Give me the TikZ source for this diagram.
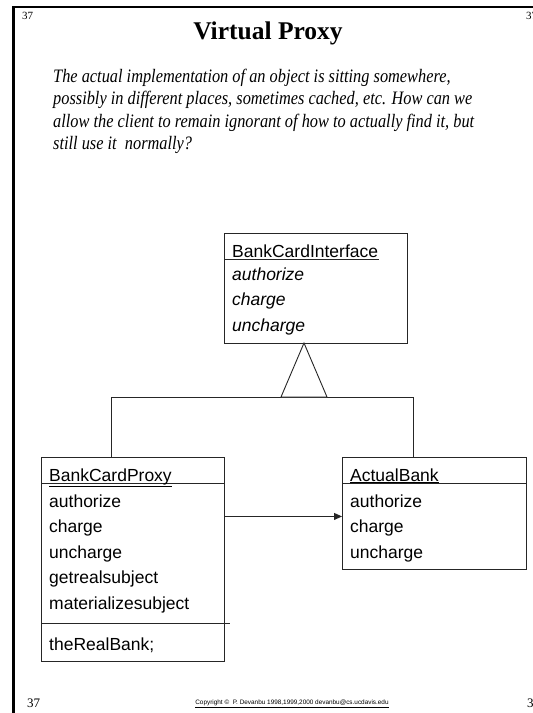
\documentclass[tikz,border=0pt]{standalone}
\usepackage{fontspec}
\setmainfont{Liberation Serif}
\newfontfamily\umlfont{Liberation Sans}
\newfontfamily\quotefont[FakeStretch=0.86]{Liberation Serif}
\usetikzlibrary{arrows.meta}
\begin{document}
\begin{tikzpicture}[x=1pt,y=-1pt,
  classbox/.style={draw=black!85, line width=0.9pt, rectangle, inner sep=0pt, anchor=north west},
  sepline/.style={draw=black!85, line width=0.9pt},
  member/.style={anchor=base west, inner sep=0pt, font=\umlfont\fontsize{17.5}{20}\selectfont},
  abstractmember/.style={member, font=\umlfont\itshape\fontsize{17.5}{20}\selectfont},
  quoteline/.style={anchor=base west, inner sep=0pt, font=\quotefont\itshape\fontsize{19}{22}\selectfont},
  pagenum/.style={inner sep=0pt, font=\fontsize{11}{12}\selectfont},
  link/.style={draw=black!85, line width=0.9pt}
]
\useasboundingbox (0,0) rectangle (533,713);

% slide frame: heavy left rule and top rule
\draw[line width=3pt] (13.5,713) -- (13.5,6);
\draw[line width=2pt] (12,7) -- (533,7);

% slide numbers
\node[pagenum, anchor=north west] (n1) at (22,12) {37};
\node[pagenum, anchor=north west] (n2) at (526,12) {37};
\node[pagenum, anchor=base west, font=\fontsize{13}{14}\selectfont] (n3) at (27,707) {37};
\node[pagenum, anchor=base west, font=\fontsize{13}{14}\selectfont] (n4) at (527,707) {37};

% title
\node[anchor=base, inner sep=0pt, font=\bfseries\fontsize{25.5}{28}\selectfont] (title) at (268,39) {Virtual Proxy};

% motivating question
\node[quoteline] (q1) at (53,82) {The actual implementation of an object is sitting somewhere,};
\node[quoteline] (q2) at (53,104.5) {possibly in different places, sometimes cached, etc. How can we};
\node[quoteline] (q3) at (53,127) {allow the client to remain ignorant of how to actually find it, but};
\node[quoteline] (q4) at (53,149.5) {still use it\ \ normally?};

% interface class
\node[classbox, minimum width=183pt, minimum height=110pt] (iface) at (224,233) {};
\draw[sepline] (iface.north west |- 0,259) -- (379,259);
\node[member] (ifname) at (232,257) {BankCardInterface};
\node[abstractmember] (if1) at (232,280) {authorize};
\node[abstractmember] (if2) at (232,305.5) {charge};
\node[abstractmember] (if3) at (232,331) {uncharge};

% proxy class
\node[classbox, minimum width=183pt, minimum height=204pt] (proxy) at (41,457) {};
\draw[sepline] (proxy.north west |- 0,483) -- (proxy.north east |- 0,483);
\draw[sepline] (proxy.north west |- 0,623) -- (230,623);
\node[member] (pname) at (49,481) {\underline{BankCardProxy}};
\node[member] (p1) at (49,507) {authorize};
\node[member] (p2) at (49,532.5) {charge};
\node[member] (p3) at (49,558) {uncharge};
\node[member] (p4) at (49,583.5) {getrealsubject};
\node[member] (p5) at (49,609) {materializesubject};
\node[member] (p6) at (49,650) {theRealBank;};

% real subject class
\node[classbox, minimum width=184pt, minimum height=112pt] (actual) at (342,457) {};
\draw[sepline] (actual.north west |- 0,483) -- (actual.north east |- 0,483);
\node[member] (aname) at (350,481) {\underline{ActualBank}};
\node[member] (a1) at (350,507) {authorize};
\node[member] (a2) at (350,532.5) {charge};
\node[member] (a3) at (350,558) {uncharge};

% generalization: both classes realise the interface
\coordinate (apex) at (304,343);
\coordinate (jl) at (111,397);
\coordinate (jr) at (413,397);
\draw[link] (jl |- proxy.north) -- (jl) -- (jr) -- (jr |- actual.north);
\draw[link, fill=white] (apex) -- (281,397) -- (327,397) -- cycle;

% proxy delegates to the real bank
\draw[link, -{Triangle[length=8pt,width=7pt]}] ([yshift=-3pt]proxy.east |- actual.west) -- ([yshift=-3pt]actual.west);

% copyright footer
\node[anchor=base, inner sep=0pt, font=\umlfont\fontsize{6.4}{7}\selectfont] (copy) at (292,704) {\underline{Copyright \textcopyright\ \ P. Devanbu 1998,1999,2000 devanbu@cs.ucdavis.edu}};
\end{tikzpicture}
\end{document}
